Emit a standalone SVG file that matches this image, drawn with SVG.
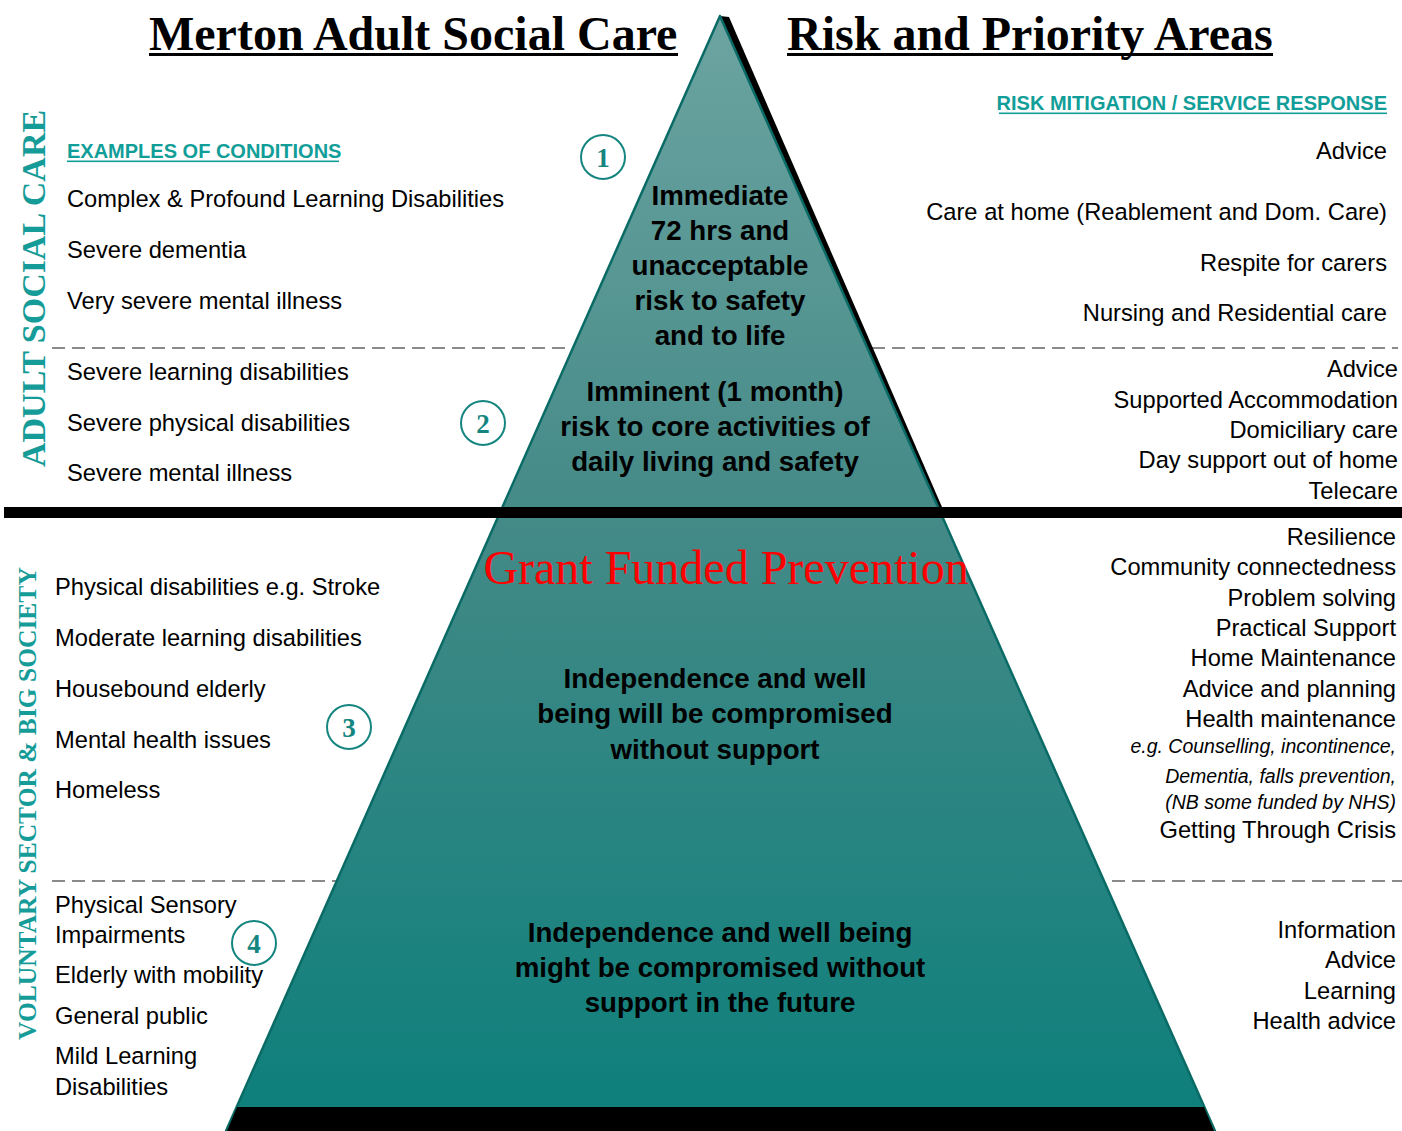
<svg xmlns="http://www.w3.org/2000/svg" width="1402" height="1131" viewBox="0 0 1402 1131">
<defs>
<linearGradient id="pyr" gradientUnits="userSpaceOnUse" x1="0" y1="16" x2="0" y2="1131">
<stop offset="0" stop-color="#6ca4a1"/>
<stop offset="0.45" stop-color="#448a87"/>
<stop offset="1" stop-color="#0c7f7b"/>
</linearGradient>
<style>
.title{font-family:"Liberation Serif","Times New Roman",serif;font-weight:bold;font-size:48px;fill:#000}
.vert{font-family:"Liberation Serif","Times New Roman",serif;font-weight:bold;fill:#169c98}
.hdr{font-family:"Liberation Sans",Arial,sans-serif;font-weight:bold;font-size:20px;fill:#119e99}
.item{font-family:"Liberation Sans",Arial,sans-serif;font-size:23.7px;fill:#000}
.ital{font-family:"Liberation Sans",Arial,sans-serif;font-style:italic;font-size:19.5px;fill:#000}
.ctr{font-family:"Liberation Sans",Arial,sans-serif;font-weight:bold;font-size:27.7px;fill:#000;text-anchor:middle}
.r{text-anchor:end}
.num{font-family:"Liberation Serif","Times New Roman",serif;font-weight:bold;font-size:27px;fill:#15857f;text-anchor:middle}
.circ{fill:#fff;stroke:#15857f;stroke-width:2}
.dash{stroke:#8a8a8a;stroke-width:2;stroke-dasharray:13 7;fill:none}
</style>
</defs>

<g id="dividers">
<line class="dash" x1="52" y1="348" x2="1398" y2="348"/>
<line class="dash" x1="52" y1="881" x2="1402" y2="881"/>
</g>

<g id="pyramid">
<polygon points="720,16 729,17 942,507 938,507" fill="#000"/>
<polygon points="720,16 226,1131 1215,1131" fill="url(#pyr)" stroke="#0a6b66" stroke-width="2.5" stroke-linejoin="round"/>
<polygon points="237,1107 1204,1107 1214,1131 227,1131" fill="#000"/>
</g>

<g id="band">
<rect x="4" y="507" width="1398" height="11" fill="#000"/>
</g>

<g id="titles">
<text class="title" x="149" y="50">Merton Adult Social Care</text>
<rect x="149" y="53" width="529" height="3" fill="#000"/>
<text class="title" x="787" y="50">Risk and Priority Areas</text>
<rect x="787" y="53" width="486" height="3" fill="#000"/>
</g>

<g id="side-labels">
<text class="vert" font-size="34" transform="translate(45,467) rotate(-90)">ADULT SOCIAL CARE</text>
<text class="vert" font-size="25.5" transform="translate(36,1040) rotate(-90)">VOLUNTARY SECTOR &amp; BIG SOCIETY</text>
</g>

<g id="tier1">
<text class="hdr" x="67" y="158">EXAMPLES OF CONDITIONS</text>
<rect x="67" y="160.5" width="272" height="1.6" fill="#119e99"/>
<text class="item" x="67" y="207">Complex &amp; Profound Learning Disabilities</text>
<text class="item" x="67" y="258">Severe dementia</text>
<text class="item" x="67" y="309">Very severe mental illness</text>
<circle class="circ" cx="603" cy="157" r="22"/>
<text class="num" x="603" y="167">1</text>
<text class="ctr" x="720" y="205">Immediate</text>
<text class="ctr" x="720" y="240">72 hrs and</text>
<text class="ctr" x="720" y="275">unacceptable</text>
<text class="ctr" x="720" y="310">risk to safety</text>
<text class="ctr" x="720" y="345">and to life</text>
<text class="hdr r" x="1387" y="110">RISK MITIGATION / SERVICE RESPONSE</text>
<rect x="999" y="112.5" width="388" height="1.6" fill="#119e99"/>
<text class="item r" x="1387" y="159">Advice</text>
<text class="item r" x="1387" y="220">Care at home (Reablement and Dom. Care)</text>
<text class="item r" x="1387" y="271">Respite for carers</text>
<text class="item r" x="1387" y="321">Nursing and Residential care</text>
</g>

<g id="tier2">
<text class="item" x="67" y="380">Severe learning disabilities</text>
<text class="item" x="67" y="431">Severe physical disabilities</text>
<text class="item" x="67" y="481">Severe mental illness</text>
<circle class="circ" cx="483" cy="423" r="22"/>
<text class="num" x="483" y="433">2</text>
<text class="ctr" x="715" y="401">Imminent (1 month)</text>
<text class="ctr" x="715" y="436">risk to core activities of</text>
<text class="ctr" x="715" y="471">daily living and safety</text>
<text class="item r" x="1398" y="377">Advice</text>
<text class="item r" x="1398" y="408">Supported Accommodation</text>
<text class="item r" x="1398" y="438">Domiciliary care</text>
<text class="item r" x="1398" y="468">Day support out of home</text>
<text class="item r" x="1398" y="499">Telecare</text>
</g>

<g id="tier3">
<text x="726" y="584" font-family="'Liberation Serif','Times New Roman',serif" font-size="48" fill="#ff0000" text-anchor="middle">Grant Funded Prevention</text>
<text class="item" x="55" y="595">Physical disabilities e.g. Stroke</text>
<text class="item" x="55" y="646">Moderate learning disabilities</text>
<text class="item" x="55" y="697">Housebound elderly</text>
<text class="item" x="55" y="748">Mental health issues</text>
<text class="item" x="55" y="798">Homeless</text>
<circle class="circ" cx="349" cy="727" r="22"/>
<text class="num" x="349" y="737">3</text>
<text class="ctr" x="715" y="688">Independence and well</text>
<text class="ctr" x="715" y="723">being will be compromised</text>
<text class="ctr" x="715" y="759">without support</text>
<text class="item r" x="1396" y="545">Resilience</text>
<text class="item r" x="1396" y="575">Community connectedness</text>
<text class="item r" x="1396" y="606">Problem solving</text>
<text class="item r" x="1396" y="636">Practical Support</text>
<text class="item r" x="1396" y="666">Home Maintenance</text>
<text class="item r" x="1396" y="697">Advice and planning</text>
<text class="item r" x="1396" y="727">Health maintenance</text>
<text class="ital r" x="1396" y="753">e.g. Counselling, incontinence,</text>
<text class="ital r" x="1396" y="783">Dementia, falls prevention,</text>
<text class="ital r" x="1396" y="809">(NB some funded by NHS)</text>
<text class="item r" x="1396" y="838">Getting Through Crisis</text>
</g>

<g id="tier4">
<text class="item" x="55" y="913">Physical Sensory</text>
<text class="item" x="55" y="943">Impairments</text>
<text class="item" x="55" y="983">Elderly with mobility</text>
<text class="item" x="55" y="1024">General public</text>
<text class="item" x="55" y="1064">Mild Learning</text>
<text class="item" x="55" y="1095">Disabilities</text>
<circle class="circ" cx="254" cy="943" r="22"/>
<text class="num" x="254" y="953">4</text>
<text class="ctr" x="720" y="942">Independence and well being</text>
<text class="ctr" x="720" y="977">might be compromised without</text>
<text class="ctr" x="720" y="1012">support in the future</text>
<text class="item r" x="1396" y="938">Information</text>
<text class="item r" x="1396" y="968">Advice</text>
<text class="item r" x="1396" y="999">Learning</text>
<text class="item r" x="1396" y="1029">Health advice</text>
</g>
</svg>
